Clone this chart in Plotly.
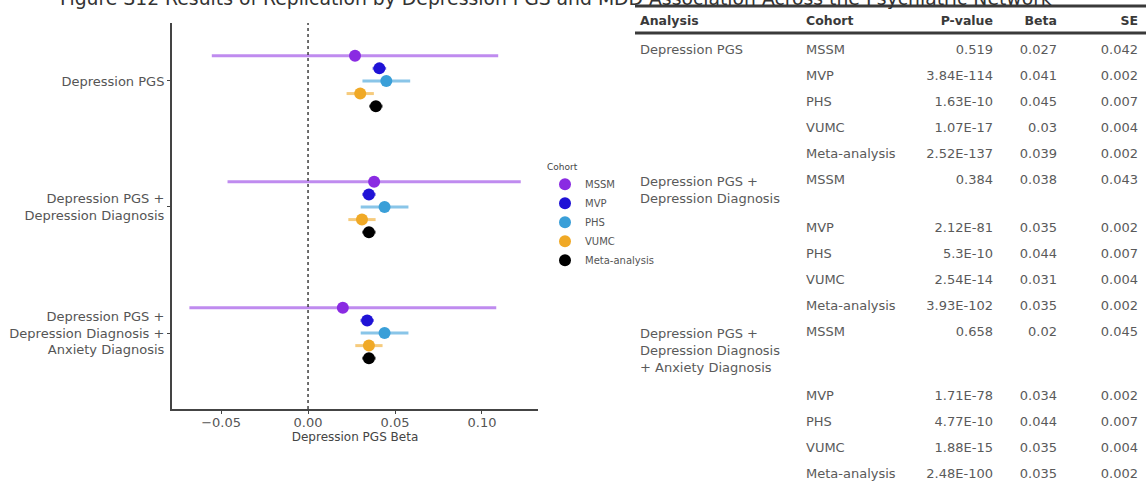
import plotly.graph_objects as go

# ---------------- data ----------------
analyses = ["Depression PGS",
            "Depression PGS +<br>Depression Diagnosis",
            "Depression PGS +<br>Depression Diagnosis +<br>Anxiety Diagnosis"]
table_analyses = ["Depression PGS",
                  "Depression PGS +<br>Depression Diagnosis",
                  "Depression PGS +<br>Depression Diagnosis<br>+ Anxiety Diagnosis"]
cohorts = ["MSSM", "MVP", "PHS", "VUMC", "Meta-analysis"]

pvalues = [["0.519", "3.84E-114", "1.63E-10", "1.07E-17", "2.52E-137"],
           ["0.384", "2.12E-81", "5.3E-10", "2.54E-14", "3.93E-102"],
           ["0.658", "1.71E-78", "4.77E-10", "1.88E-15", "2.48E-100"]]
betas = [[0.027, 0.041, 0.045, 0.03, 0.039],
         [0.038, 0.035, 0.044, 0.031, 0.035],
         [0.02, 0.034, 0.044, 0.035, 0.035]]
ses = [[0.042, 0.002, 0.007, 0.004, 0.002],
       [0.043, 0.002, 0.007, 0.004, 0.002],
       [0.045, 0.002, 0.007, 0.004, 0.002]]

x_tickvals = [-0.05, 0.0, 0.05, 0.10]
x_ticktext = ["\u22120.05", "0.00", "0.05", "0.10"]

title_text = ("Figure S12 Results of Replication by Depression PGS and MDD Association "
              "Across the Psychiatric Network")

# ---------------- styles ----------------
point_colors = ["#8a2be2", "#1f12d6", "#3a9fd8", "#f0a926", "#000000"]
bar_colors = ["rgba(138,43,226,0.55)", "rgba(31,18,214,0.55)", "rgba(58,159,216,0.6)",
              "rgba(240,169,38,0.6)", "rgba(0,0,0,0.6)"]
FONT = "DejaVu Sans"
W, H = 1146, 482

fig = go.Figure()

for k, c in enumerate(cohorts):
    xs = [betas[g][k] for g in range(len(analyses))]
    ys = [g + (k - 2) * 0.1 for g in range(len(analyses))]
    err = [1.96 * ses[g][k] for g in range(len(analyses))]
    fig.add_trace(go.Scatter(
        x=xs, y=ys, mode="markers", name=c,
        marker=dict(size=12, color=point_colors[k]),
        error_x=dict(type="data", array=err, visible=True, thickness=3,
                     width=0, color=bar_colors[k]),
        xaxis="x", yaxis="y",
    ))

# table
col_analysis, col_cohort, col_p, col_beta, col_se = [], [], [], [], []
for g in range(len(analyses)):
    for k, c in enumerate(cohorts):
        col_analysis.append(table_analyses[g] if k == 0 else "")
        col_cohort.append(c)
        col_p.append(pvalues[g][k])
        col_beta.append(str(betas[g][k]))
        col_se.append(str(ses[g][k]))

fig.add_trace(go.Table(
    domain=dict(x=[632 / W, 1], y=[0, 1 - 5 / H]),
    columnwidth=[166, 107, 96, 64, 81],
    header=dict(values=["<b>Analysis</b>", "<b>Cohort</b>", "<b>P-value</b>",
                        "<b>Beta</b>", "<b>SE</b>"],
                align=["left", "left", "right", "right", "right"],
                height=28, fill_color="white",
                line=dict(color="white", width=0),
                font=dict(family=FONT, size=12.5, color="#3a3a3a")),
    cells=dict(values=[col_analysis, col_cohort, col_p, col_beta, col_se],
               align=["left", "left", "right", "right", "right"],
               height=26, fill_color="white",
               line=dict(color="white", width=0),
               font=dict(family=FONT, size=13, color="#5a5a5a")),
))

axis_col = "#444444"
fig.update_layout(
    width=W, height=H,
    margin=dict(l=0, r=0, t=0, b=0),
    paper_bgcolor="white", plot_bgcolor="white",
    font=dict(family=FONT, color="#4d4d4d"),
    xaxis=dict(domain=[172 / W, 538 / W], range=[-0.0782, 0.1322],
               tickvals=x_tickvals, ticktext=x_ticktext,
               showline=True, linecolor=axis_col, linewidth=2,
               ticks="outside", ticklen=3, tickcolor=axis_col,
               ticklabelstandoff=-3,
               showgrid=False, zeroline=False,
               tickfont=dict(size=13, color="#555555"),
               title=dict(text="Depression PGS Beta", standoff=0,
                          font=dict(size=12, color="#444444")),
               anchor="y"),
    yaxis=dict(domain=[(H - 409) / H, (H - 23) / H], range=[2.603, -0.46],
               tickvals=list(range(len(analyses))), ticktext=analyses,
               showline=True, linecolor=axis_col, linewidth=2,
               ticks="outside", ticklen=3, tickcolor=axis_col,
               showgrid=False, zeroline=False,
               tickfont=dict(size=13, color="#555555"),
               anchor="x"),
    legend=dict(x=545 / W, y=1 - 158 / H, xanchor="left", yanchor="top",
                title=dict(text="Cohort", font=dict(size=9, color="#444444")),
                font=dict(size=10, color="#555555"),
                bgcolor="rgba(0,0,0,0)", itemwidth=30),
    shapes=[
        dict(type="line", xref="x", yref="y domain", x0=0, x1=0, y0=0, y1=1,
             line=dict(color="#222222", width=1.3, dash="dot")),
        dict(type="line", xref="paper", yref="paper", x0=635 / W, x1=1,
             y0=1 - 6 / H, y1=1 - 6 / H, line=dict(color="#3a3a3a", width=3)),
        dict(type="line", xref="paper", yref="paper", x0=635 / W, x1=1,
             y0=1 - 33 / H, y1=1 - 33 / H, line=dict(color="#3a3a3a", width=3)),
    ],
    annotations=[dict(text=title_text, xref="paper", yref="paper", x=58 / W, y=1,
                      xanchor="left", yanchor="middle", yshift=2, showarrow=False,
                      font=dict(size=18.8, color="#333333"))],
    showlegend=True,
)

fig.write_html(
    "out.html",
    config={"displayModeBar": False},
    post_script="document.body.style.margin='0px';document.body.style.overflow='hidden';",
)
